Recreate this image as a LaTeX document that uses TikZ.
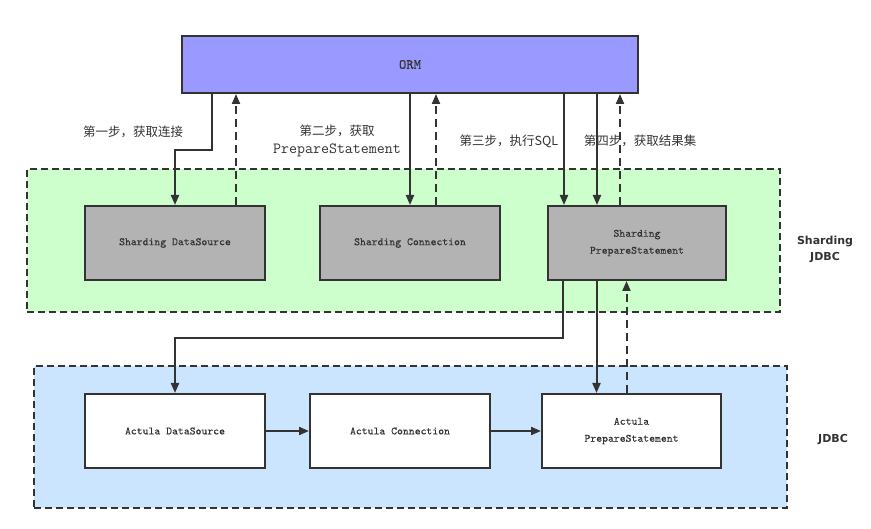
\documentclass[tikz,border=0pt]{standalone}
\usepackage{fontspec}
\setmainfont{Liberation Serif}
\newfontfamily\cjk{Noto Sans CJK SC}
\newfontfamily\grpfont{DejaVu Sans}
\newfontfamily\monob{lmmono10-regular.otf}[FakeBold=0.15]
\usetikzlibrary{arrows.meta}
\definecolor{ink}{HTML}{333333}
\definecolor{ormfill}{HTML}{9999FF}
\definecolor{greenfill}{HTML}{CCFFCC}
\definecolor{bluefill}{HTML}{CCE5FF}
\definecolor{grayfill}{HTML}{B3B3B3}
\tikzset{
  group/.style={draw=ink, line width=2pt, dash pattern=on 7pt off 4pt, inner sep=0pt},
  box/.style={draw=ink, line width=2pt, minimum width=180pt, minimum height=74pt, inner sep=0pt, align=center, font=\fontsize{11.2}{17}\selectfont\monob, text=ink},
  arr/.style={draw=ink, line width=2pt, -{Triangle[length=10pt,width=8pt]}},
  darr/.style={arr, dash pattern=on 8pt off 5pt},
  lab/.style={font=\fontsize{12.5}{18}\selectfont\cjk, text=ink, inner sep=0pt, align=center},
  grp/.style={font=\fontsize{11}{16}\selectfont\grpfont\bfseries, text=ink, align=center, inner sep=0pt}
}
\begin{document}
\begin{tikzpicture}[x=1pt,y=-1pt]
\useasboundingbox (0,0) rectangle (871,529);
\fill[white] (0,0) rectangle (871,529);
% groups
\node[group, fill=greenfill, minimum width=753pt, minimum height=143pt] (gshard) at (403.5,240.5) {};
\node[group, fill=bluefill, minimum width=753pt, minimum height=142pt] (gjdbc) at (410.5,437) {};
% ORM
\node[draw=ink, line width=2pt, fill=ormfill, minimum width=456pt, minimum height=57pt, inner sep=0pt, font=\fontsize{14}{14}\selectfont\monob, text=ink] (orm) at (410,64.5) {ORM};
% sharding boxes
\node[box, fill=grayfill] (sds) at (175,243) {Sharding DataSource};
\node[box, fill=grayfill] (sc) at (410,243) {Sharding Connection};
\node[box, fill=grayfill, minimum width=178pt] (sps) at (637,243) {Sharding\\PrepareStatement};
% actual boxes
\node[box, fill=white] (ads) at (175,431) {Actula DataSource};
\node[box, fill=white] (ac) at (400,431) {Actula Connection};
\node[box, fill=white, minimum width=179pt] (aps) at (631.5,431) {Actula\\PrepareStatement};
% group labels
\node[grp] (lshard) at (825,249) {Sharding\\JDBC};
\node[grp] (ljdbc) at (833,440) {JDBC};
% step labels
\node[lab] (l1) at (133,132) {第一步，获取连接};
\node[lab] (l2) at (337,141) {第二步，获取\\{\fontsize{15.5}{18}\selectfont\ttfamily PrepareStatement}};
\node[lab] (l3) at (509,141) {第三步，执行SQL};
\node[lab] (l4) at (640,141) {第四步，获取结果集};
% step 1
\draw[arr] ([xshift=-198pt]orm.south) -- ++(0,56) -| (sds.north);
\draw[darr] ([xshift=61pt]sds.north) -- ([xshift=61pt]sds.north |- orm.south);
% step 2
\draw[arr] (orm.south -| sc.north) -- (sc.north);
\draw[darr] ([xshift=26pt]sc.north) -- ([xshift=26pt]sc.north |- orm.south);
% step 3 and 4
\draw[arr] ([xshift=-73pt]sps.north |- orm.south) -- ([xshift=-73pt]sps.north);
\draw[arr] ([xshift=-40pt]sps.north |- orm.south) -- ([xshift=-40pt]sps.north);
\draw[darr] ([xshift=-17pt]sps.north) -- ([xshift=-17pt]sps.north |- orm.south);
% sharding to actual
\draw[arr] ([xshift=-74pt]sps.south) -- ++(0,57) -| (ads.north);
\draw[arr] ([xshift=-35pt]aps.north |- sps.south) -- ([xshift=-35pt]aps.north);
\draw[darr] ([xshift=-5pt]aps.north) -- ([xshift=-5pt]aps.north |- sps.south);
% actual chain
\draw[arr] (ads.east) -- (ac.west);
\draw[arr] (ac.east) -- (aps.west);
\end{tikzpicture}
\end{document}
